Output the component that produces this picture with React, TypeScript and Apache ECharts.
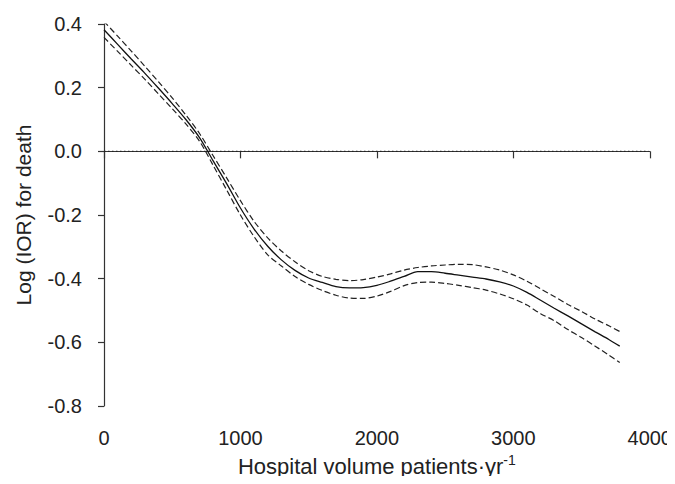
import React, { useEffect, useRef } from "react";
import * as echarts from "echarts";

const volume = [0, 100, 200, 300, 400, 500, 600, 700, 800, 900, 1000, 1100, 1200, 1300, 1400, 1500, 1600, 1700, 1800, 1900, 2000, 2100, 2200, 2300, 2400, 2500, 2600, 2700, 2800, 2900, 3000, 3100, 3200, 3300, 3400, 3500, 3600, 3700, 3780];

const logIOR = [0.382, 0.336, 0.29, 0.245, 0.198, 0.15, 0.1, 0.043, -0.03, -0.102, -0.178, -0.244, -0.298, -0.341, -0.374, -0.398, -0.412, -0.425, -0.429, -0.428, -0.421, -0.408, -0.393, -0.378, -0.378, -0.383, -0.389, -0.395, -0.401, -0.41, -0.423, -0.443, -0.468, -0.493, -0.517, -0.542, -0.567, -0.591, -0.612];

const upperCI = [0.408, 0.362, 0.315, 0.267, 0.218, 0.168, 0.114, 0.056, -0.014, -0.084, -0.155, -0.22, -0.272, -0.313, -0.347, -0.375, -0.393, -0.402, -0.406, -0.403, -0.395, -0.385, -0.373, -0.365, -0.36, -0.357, -0.355, -0.356, -0.363, -0.373, -0.388, -0.408, -0.432, -0.456, -0.481, -0.503, -0.527, -0.548, -0.566];

const lowerCI = [0.358, 0.314, 0.27, 0.226, 0.18, 0.134, 0.086, 0.032, -0.044, -0.122, -0.2, -0.268, -0.325, -0.36, -0.393, -0.418, -0.437, -0.452, -0.461, -0.462, -0.455, -0.44, -0.422, -0.412, -0.411, -0.415, -0.421, -0.428, -0.436, -0.448, -0.463, -0.483, -0.51, -0.532, -0.56, -0.585, -0.612, -0.64, -0.663];

const referenceLine = [[-88, 0], [3990, 0]];

const xTicks = [0, 1000, 2000, 3000, 4000];
const yTicks = [-0.8, -0.6, -0.4, -0.2, 0.0, 0.2, 0.4];

const FONT = "'Liberation Sans', Arial, Helvetica, sans-serif";
const INK = "#222";

export default function App() {
  const ref = useRef<HTMLDivElement>(null);
  useEffect(() => {
    if (!ref.current) return;
    const chart = echarts.init(ref.current, undefined, { renderer: "svg" });
    const pair = (ys: number[]) => volume.map((x, i) => [x, ys[i]]);
    chart.setOption({
      animation: false,
      backgroundColor: "#fff",
      textStyle: { fontFamily: FONT },
      grid: { left: 104, right: 25, top: 24, bottom: 71 },
      xAxis: {
        type: "value",
        min: xTicks[0],
        max: xTicks[xTicks.length - 1],
        interval: 1000,
        offset: 6,
        splitLine: { show: false },
        axisLine: { show: true, lineStyle: { color: "#333", width: 1.2 } },
        axisTick: { show: true, length: 7, lineStyle: { color: "#333", width: 1.2 } },
        axisLabel: {
          color: INK,
          fontSize: 20,
          fontFamily: FONT,
          margin: 16,
          formatter: (v: number) => String(v),
        },
        name: "Hospital volume patients·yr{sup|-1}",
        nameLocation: "middle",
        nameGap: 41,
        nameTextStyle: {
          color: INK,
          fontSize: 22,
          fontFamily: FONT,
          lineHeight: 26,
          rich: {
            sup: { fontSize: 14, fontFamily: FONT, color: INK, verticalAlign: "top", lineHeight: 26, padding: [0, 0, 12, 0] },
          },
        },
      },
      yAxis: {
        type: "value",
        min: yTicks[0],
        max: yTicks[yTicks.length - 1],
        interval: 0.2,
        offset: 12,
        splitLine: { show: false },
        axisLine: { show: true, lineStyle: { color: "#333", width: 1.2 } },
        axisTick: { show: true, length: 6, lineStyle: { color: "#333", width: 1.2 } },
        axisLabel: {
          color: INK,
          fontSize: 20,
          fontFamily: FONT,
          margin: 10,
          formatter: (v: number) => v.toFixed(1),
        },
        name: "Log (IOR) for death",
        nameLocation: "middle",
        nameGap: 58,
        nameTextStyle: { color: INK, fontSize: 21, fontFamily: FONT },
      },
      series: [
        {
          type: "line",
          data: referenceLine,
          clip: false,
          symbol: "none",
          lineStyle: { color: "#222", width: 1.2, type: [1.5, 2.5] },
          silent: true,
        },
        {
          type: "line",
          data: pair(upperCI),
          symbol: "none",
          smooth: 0.3,
          lineStyle: { color: "#222", width: 1.2, type: [6, 3] },
        },
        {
          type: "line",
          data: pair(lowerCI),
          symbol: "none",
          smooth: 0.3,
          lineStyle: { color: "#222", width: 1.2, type: [6, 3] },
        },
        {
          type: "line",
          data: pair(logIOR),
          symbol: "none",
          smooth: 0.3,
          lineStyle: { color: "#111", width: 1.3 },
        },
      ],
    });
    return () => chart.dispose();
  }, []);
  return <div ref={ref} style={{ width: 675, height: 484, margin: -8 }} />;
}
